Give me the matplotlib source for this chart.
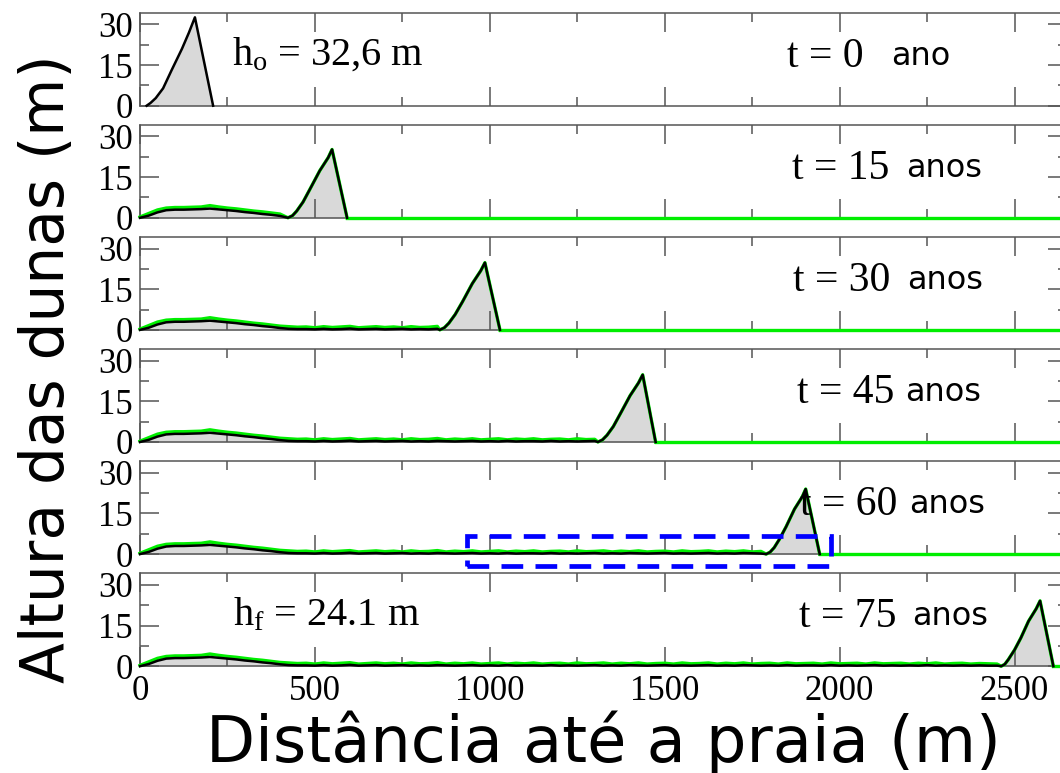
import numpy as np
import matplotlib
matplotlib.use("Agg")
import matplotlib.pyplot as plt
from matplotlib.patches import Rectangle
from matplotlib.ticker import MultipleLocator

plt.rcParams["mathtext.fontset"] = "custom"
plt.rcParams["mathtext.rm"] = "Liberation Serif"
plt.rcParams["mathtext.it"] = "Liberation Serif"

SERIF = "Liberation Serif"
SANS = "DejaVu Sans"

# ---- data -------------------------------------------------------------
years = [0, 15, 30, 45, 60, 75]
year_words = ["ano", "anos", "anos", "anos", "anos", "anos"]

# trail of sand left behind the migrating dune (black = surface, green = cover)
trail_x = list(range(0, 2475, 25))
trail_black = [0.0, 0.8, 2.0, 2.8, 3.0, 3.0, 3.1, 3.2, 3.4, 3.1,
               2.8, 2.5, 2.1, 1.8, 1.4, 1.1, 0.7, 0.4, 0.3,
               0.3, 0.2, 0.4, 0.2, 0.3, 0.5, 0.2, 0.3, 0.4, 0.2,
               0.3, 0.4, 0.2, 0.3, 0.2, 0.4, 0.3, 0.2, 0.3, 0.4,
               0.2, 0.3, 0.2, 0.4, 0.2, 0.3, 0.3, 0.2, 0.4, 0.2,
               0.3, 0.2, 0.3, 0.4, 0.2, 0.3, 0.2, 0.4, 0.3, 0.2,
               0.3, 0.4, 0.2, 0.3, 0.2, 0.3, 0.4, 0.2, 0.3, 0.2,
               0.4, 0.3, 0.2, 0.3, 0.2, 0.4, 0.2, 0.3, 0.3, 0.2,
               0.4, 0.2, 0.3, 0.2, 0.3, 0.4, 0.2, 0.3, 0.2, 0.3,
               0.2, 0.4, 0.2, 0.3, 0.2, 0.3, 0.2, 0.3, 0.2, 0.2]
trail_green = [0.3, 1.6, 2.9, 3.6, 3.8, 3.8, 3.9, 4.0, 4.5, 4.0,
               3.6, 3.3, 2.9, 2.5, 2.2, 1.8, 1.4, 1.2, 1.0,
               1.1, 0.8, 1.2, 0.9, 1.1, 1.3, 0.8, 1.0, 1.2, 0.9,
               1.1, 0.8, 1.2, 0.9, 1.0, 1.3, 0.8, 1.1, 0.9, 1.2,
               0.8, 1.0, 1.2, 0.8, 1.1, 0.9, 1.2, 0.8, 1.0, 1.1,
               0.8, 1.2, 0.9, 1.0, 1.2, 0.8, 1.1, 0.9, 1.2, 0.8,
               1.0, 1.1, 0.8, 1.2, 0.9, 1.0, 1.2, 0.8, 1.1, 0.9,
               1.2, 0.8, 1.0, 1.1, 0.8, 1.2, 0.9, 1.0, 1.1, 0.8,
               1.2, 0.9, 1.0, 1.1, 0.8, 1.2, 0.9, 1.0, 1.1, 0.8,
               1.1, 0.9, 1.2, 0.8, 1.0, 1.1, 0.8, 1.0, 0.9, 0.8]

# dune profile (distance, height) for each year
dune_x = [
    [19, 30, 45, 66, 90, 120, 140, 157, 209],
    [423, 436, 448, 466, 486, 514, 538, 549, 592],
    [857, 870, 883, 901, 922, 950, 974, 986, 1029],
    [1309, 1322, 1335, 1353, 1373, 1401, 1425, 1437, 1474],
    [1790, 1801, 1813, 1828, 1847, 1871, 1893, 1903, 1943],
    [2462, 2472, 2482, 2500, 2518, 2540, 2562, 2573, 2611],
]
dune_h = [
    [0, 1.0, 2.8, 6.4, 13.0, 21.0, 27.0, 32.6, 0],
    [0, 0.8, 2.5, 5.8, 10.6, 17.4, 22.2, 25.2, 0],
    [0, 0.8, 2.5, 5.7, 10.4, 17.1, 21.8, 24.8, 0],
    [0, 0.8, 2.5, 5.7, 10.4, 17.1, 21.8, 24.8, 0],
    [0, 0.7, 2.4, 5.5, 10.1, 16.6, 21.1, 24.0, 0],
    [0, 0.7, 2.4, 6.0, 10.4, 16.6, 21.2, 24.1, 0],
]
h_initial = 32.6
h_final = 24.1

# highlighted stretch of the trail in the t = 60 panel
box_x = (934, 1974)
box_y = (-4.3, 6.7)

XMAX = 2650
YMAX = 34.3

# ---- figure -----------------------------------------------------------
W, H = 1060, 773
fig = plt.figure(figsize=(W / 100, H / 100), dpi=100)

left_px, right_px = 140, 1067
top0_px, step_px, height_px = 12.7, 112.1, 93.0

trail_x_arr = np.array(trail_x)
tb = np.array(trail_black)
tg = np.array(trail_green)

spine_color = "#555555"
axes = []
for i, yr in enumerate(years):
    top = top0_px + i * step_px
    ax = fig.add_axes([left_px / W, 1 - (top + height_px) / H,
                       (right_px - left_px) / W, height_px / H])
    axes.append(ax)
    ax.set_xlim(0, XMAX)
    ax.set_ylim(0, YMAX)

    dx = np.array(dune_x[i], dtype=float)
    dh = np.array(dune_h[i], dtype=float)
    if yr > 0:
        keep = trail_x_arr < dx[0]
        bx = np.concatenate([trail_x_arr[keep], dx])
        by = np.concatenate([tb[keep], dh])
        gy = np.concatenate([tg[keep], dh])
        ax.fill_between(bx, 0, by, color="#d9d9d9", lw=0, zorder=1)
        ax.plot(bx, gy, color="#00ee00", lw=2.4, zorder=3, clip_on=False)
        ax.plot([dx[-1], XMAX], [0, 0], color="#00ee00", lw=2.4,
                zorder=3, clip_on=False)
        ax.plot(bx, by, color="black", lw=1.8, zorder=4, clip_on=False)
    else:
        ax.fill_between(dx, 0, dh, color="#d9d9d9", lw=0, zorder=1)
        ax.plot(dx, dh, color="black", lw=1.8, zorder=4, clip_on=False)

    # ticks
    ax.xaxis.set_major_locator(MultipleLocator(500))
    ax.xaxis.set_minor_locator(MultipleLocator(250))
    ax.yaxis.set_major_locator(MultipleLocator(15))
    ax.yaxis.set_minor_locator(MultipleLocator(7.5))
    ax.tick_params(which="both", direction="in", top=True, right=True,
                   color=spine_color, width=1.1)
    ax.tick_params(which="major", length=14)
    ax.tick_params(which="minor", length=6.5)
    ax.tick_params(axis="y", which="major", pad=5)
    ax.tick_params(axis="x", which="major", pad=6)
    ax.set_yticks([0, 15, 30])
    ax.set_yticklabels(["0", "15", "30"], fontfamily=SERIF, fontsize=25)
    if i < len(years) - 1:
        ax.tick_params(axis="x", labelbottom=False)
    else:
        ax.set_xticks([0, 500, 1000, 1500, 2000, 2500])
        ax.set_xticklabels(["0", "500", "1000", "1500", "2000", "2500"],
                           fontfamily=SERIF, fontsize=25)
    for s in ax.spines.values():
        s.set_color(spine_color)
        s.set_linewidth(1.1)

# time labels
t_px = [787, 792, 793, 797, 800, 799]
word_px = [892, 907, 908, 906, 910, 913]
for i, ax in enumerate(axes):
    tx = (t_px[i] - left_px) / 0.35
    wx = (word_px[i] - left_px) / 0.35
    ax.text(tx, 0.53 * YMAX, f"t = {years[i]}", fontfamily=SERIF,
            fontsize=30, va="center", ha="left", zorder=5)
    ax.text(wx, 0.53 * YMAX, year_words[i], fontfamily=SANS,
            fontsize=23, va="center", ha="left", zorder=5)

axes[0].text((232 - left_px) / 0.35, 0.55 * YMAX,
             r"$\mathrm{h_o}$" + f" = {h_initial:.1f}".replace(".", ",") + " m",
             fontfamily=SERIF, fontsize=29, va="center", ha="left")
axes[-1].text((233 - left_px) / 0.35, 0.55 * YMAX,
              r"$\mathrm{h_f}$" + f" = {h_final:.1f} m",
              fontfamily=SERIF, fontsize=29, va="center", ha="left")

# dashed box on the t = 60 panel
axes[4].add_patch(Rectangle((box_x[0], box_y[0]), box_x[1] - box_x[0],
                            box_y[1] - box_y[0], fill=False,
                            edgecolor="#0000ff", lw=3.4,
                            linestyle=(0, (4.6, 2.6)), clip_on=False,
                            zorder=6))

fig.text(48 / W, 1 - 369 / H, "Altura das dunas (m)", rotation=90,
         fontfamily=SANS, fontsize=43, ha="center", va="center")
fig.text(603 / W, 1 - 762 / H, "Distância até a praia (m)",
         fontfamily=SANS, fontsize=46, ha="center", va="baseline")

fig.savefig("out.png", dpi=100)
